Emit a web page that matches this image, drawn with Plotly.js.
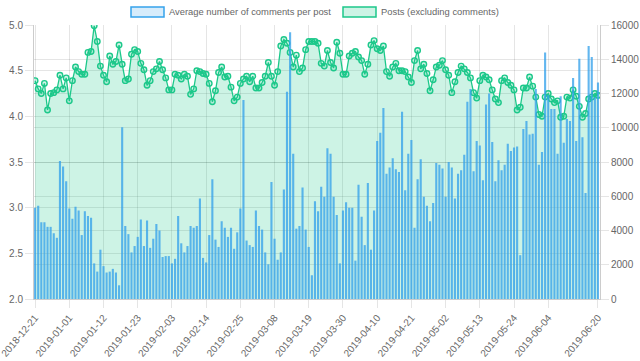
<!DOCTYPE html>
<html>
<head>
<meta charset="utf-8">
<script src="https://cdn.plot.ly/plotly-3.0.1.min.js"></script>
<style>html,body{margin:0;padding:0;background:#fff;}#chart{width:640px;height:361px;}</style>
</head>
<body>
<div id="chart"></div>
<script>
// Average number of comments per post (left axis), one value per day from 2018-12-21
const avgComments = [
  3.00,3.02,2.84,2.84,2.79,2.79,2.72,2.67,3.51,3.45,
  3.29,2.99,2.88,3.01,2.97,2.70,2.96,2.91,2.89,2.39,
  2.30,2.54,2.36,2.29,2.30,2.33,2.29,2.15,3.88,2.80,
  2.71,2.51,2.58,2.68,2.87,2.58,2.86,2.56,2.66,2.82,
  2.75,2.46,2.47,2.47,2.39,2.44,2.91,2.61,2.51,2.58,
  2.80,2.78,2.80,3.10,2.45,2.40,2.70,3.31,2.65,2.57,
  2.85,2.78,2.68,2.78,2.55,2.73,2.99,4.18,2.64,2.59,
  2.57,2.97,2.80,2.76,2.51,2.38,3.28,2.66,2.43,2.51,
  3.20,4.27,4.92,3.59,2.77,2.80,3.22,2.76,2.57,2.26,
  3.07,2.96,3.23,3.12,3.65,3.59,3.12,2.92,2.39,2.97,
  3.06,3.00,3.00,2.42,3.25,2.90,2.59,3.27,2.54,2.97,
  3.73,3.82,4.09,3.37,3.44,3.54,3.42,3.39,4.05,3.19,
  3.59,3.74,2.78,3.31,3.53,3.12,3.02,2.85,3.05,3.49,
  3.47,3.43,3.12,3.50,3.44,3.10,3.37,3.41,3.58,4.16,
  4.30,3.40,3.73,3.68,3.30,4.13,4.25,3.72,3.29,3.52,
  3.41,3.47,3.70,3.62,3.66,3.67,2.48,3.86,3.95,3.80,
  3.81,4.30,3.47,3.61,4.70,4.23,4.08,4.08,3.59,4.22,
  3.71,3.97,3.95,4.42,3.73,4.63,3.77,3.16,4.77,4.65,
  4.21,4.37
];
// Posts (excluding comments) (right axis)
const posts = [
  12750,12270,12000,12590,11040,12000,12050,12210,13070,12270,
  12910,11570,12750,13550,13280,13120,13120,14400,14450,15950,
  15040,13600,13070,12690,14190,13710,13870,14830,13710,12750,
  12850,14290,14560,14450,13760,13390,12480,12750,13280,13440,
  13870,13390,12910,12210,12210,13120,13070,12850,13120,13010,
  11950,12270,13330,13280,13170,13120,12590,11520,12160,13230,
  13550,12960,13010,12370,11570,11790,12590,12850,13010,12690,
  13010,12320,12320,12640,13010,13810,13010,12480,13280,14770,
  15150,14930,14400,13550,14240,13280,13490,14560,15040,15040,
  15040,14930,13760,13600,14510,13810,13490,14990,14350,13120,
  13120,14190,14350,14450,14130,13920,13120,13710,14830,15090,
  14610,14510,14770,13280,13010,13550,13760,13330,13330,13280,
  12960,12640,13920,14510,13440,13710,13170,12160,12800,13550,
  13650,13920,13390,13070,12050,12690,13230,13600,13440,13230,
  12910,12050,11730,12750,13070,12960,12800,12210,11680,11470,
  12750,12910,12640,12480,12210,11040,11200,12320,12320,12960,
  12430,11790,10770,10670,11790,12000,11680,11470,11570,10610,
  10670,11790,11730,12210,11840,11250,10610,10830,11680,11790,
  12000,11890
];
const startDate = '2018-12-21';
const tickLabels = ['2018-12-21','2019-01-01','2019-01-12','2019-01-23','2019-02-03','2019-02-14',
  '2019-02-25','2019-03-08','2019-03-19','2019-03-30','2019-04-10','2019-04-21','2019-05-02',
  '2019-05-13','2019-05-24','2019-06-04','2019-06-20'];
const seriesNames = ['Average number of comments per post', 'Posts (excluding comments)'];

// daily category labels
const dates = [];
const t0 = Date.parse(startDate + 'T00:00:00Z');
for (let i = 0; i < avgComments.length; i++) {
  dates.push(new Date(t0 + i * 86400000).toISOString().slice(0, 10));
}

const BLUE = 'rgb(54,162,235)';
const GREEN = 'rgb(28,200,138)';
const GRID = 'rgba(0,0,0,0.1)';
const TICKFONT = {family: '"Liberation Sans", Arial, sans-serif', size: 10, color: '#666'};
const LEGFONT = {family: '"Liberation Sans", Arial, sans-serif', size: 9.4, color: '#666'};

const W = 640, H = 361, ML = 34, MR = 40, MT = 25, MB = 62;
const PW = W - ML - MR, PH = H - MT - MB;
const px = x => (x - ML) / PW;
const py = y => (H - MB - y) / PH;

const barTrace = {
  type: 'bar', x: dates, y: avgComments, yaxis: 'y2', name: seriesNames[0],
  marker: {color: 'rgba(54,162,235,0.78)', line: {width: 0}},
  showlegend: false, hoverinfo: 'skip'
};
const lineTrace = {
  type: 'scatter', mode: 'lines+markers', x: dates, y: posts, name: seriesNames[1],
  fill: 'tozeroy', fillcolor: 'rgba(28,200,138,0.22)',
  line: {color: GREEN, width: 1.3},
  marker: {symbol: 'circle', size: 5.5, color: 'rgba(28,200,138,0.2)', line: {color: GREEN, width: 1.4}},
  showlegend: false, hoverinfo: 'skip'
};

const axisCommon = {
  gridcolor: GRID, gridwidth: 1, ticks: 'outside', ticklen: 8, tickcolor: GRID,
  showline: true, linecolor: 'rgba(0,0,0,0.2)', linewidth: 1, zeroline: false,
  tickfont: TICKFONT, fixedrange: true
};

const layout = {
  width: W, height: H,
  margin: {l: ML, r: MR, t: MT, b: MB, pad: 0},
  paper_bgcolor: '#fff', plot_bgcolor: '#fff',
  font: TICKFONT,
  bargap: 0.32,
  showlegend: false,
  xaxis: Object.assign({}, axisCommon, {
    type: 'category', range: [-0.35, avgComments.length - 1 + 0.65],
    tickmode: 'array', tickvals: tickLabels, ticktext: tickLabels, tickangle: -50
  }),
  yaxis: Object.assign({}, axisCommon, {
    side: 'right', range: [0, 16000], dtick: 2000, tickformat: 'd'
  }),
  yaxis2: Object.assign({}, axisCommon, {
    side: 'left', overlaying: 'y', range: [2, 5], dtick: 0.5, tickformat: '.1f'
  }),
  shapes: [
    {type: 'rect', xref: 'paper', yref: 'paper', x0: px(131), x1: px(164), y0: py(17), y1: py(7),
     fillcolor: 'rgba(54,162,235,0.2)', line: {color: BLUE, width: 1.5}},
    {type: 'rect', xref: 'paper', yref: 'paper', x0: px(343), x1: px(376), y0: py(17), y1: py(7),
     fillcolor: 'rgba(28,200,138,0.22)', line: {color: GREEN, width: 1.5}}
  ],
  annotations: [
    {xref: 'paper', yref: 'paper', x: px(167), y: py(12), xanchor: 'left', yanchor: 'middle',
     text: seriesNames[0], showarrow: false, font: LEGFONT},
    {xref: 'paper', yref: 'paper', x: px(379), y: py(12), xanchor: 'left', yanchor: 'middle',
     text: seriesNames[1], showarrow: false, font: LEGFONT}
  ]
};

Plotly.newPlot('chart', [lineTrace, barTrace], layout, {staticPlot: true, displayModeBar: false});
</script>
</body>
</html>
